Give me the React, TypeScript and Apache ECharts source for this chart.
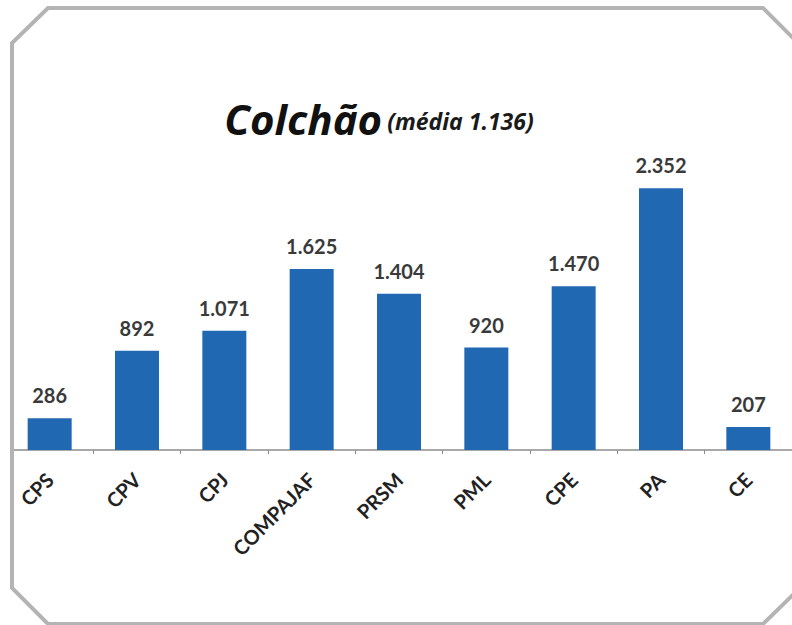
import React, { useEffect, useRef } from "react";
import * as echarts from "echarts";

const categories = ["CPS", "CPV", "CPJ", "COMPAJAF", "PRSM", "PML", "CPE", "PA", "CE"];
const values = [286, 892, 1071, 1625, 1404, 920, 1470, 2352, 207];
const titleMain = "Colchão";
const titleSub = "(média 1.136)";

const fmt = (v: number) => String(v).replace(/\B(?=(\d{3})+(?!\d))/g, ".");

export default function App() {
  const ref = useRef<HTMLDivElement>(null);
  useEffect(() => {
    if (!ref.current) return;
    const chart = echarts.init(ref.current, undefined, { renderer: "svg" });
    chart.setOption({
      animation: false,
      backgroundColor: "#ffffff",
      title: {
        left: 374,
        top: 90,
        textAlign: "center",
        text: `{a|${titleMain}} {b|${titleSub}}`,
        textStyle: {
          rich: {
            a: { fontFamily: "Open Sans", fontSize: 42, fontWeight: "bold", fontStyle: "italic", color: "#111", lineHeight: 46 },
            b: { fontFamily: "Open Sans", fontSize: 23, fontWeight: "bold", fontStyle: "italic", color: "#1a1a1a", lineHeight: 46, padding: [5, 0, 0, 0] },
          },
        },
      },
      grid: { left: 6, width: 800, top: 116, bottom: 175, containLabel: false },
      xAxis: {
        type: "category",
        data: categories,
        axisLine: { lineStyle: { color: "#8c8c8c", width: 1.5 } },
        axisTick: { show: true, length: 4, lineStyle: { color: "#8c8c8c" } },
        axisLabel: {
          rotate: 45,
          margin: 26,
          interval: 0,
          fontFamily: "Lato",
          fontSize: 20,
          fontWeight: "bold",
          color: "#222",
        },
      },
      yAxis: { type: "value", min: 0, max: 3000, show: false, splitLine: { show: false } },
      series: [
        {
          type: "bar",
          data: values,
          barWidth: 44,
          itemStyle: { color: "#2068b2" },
          label: {
            show: true,
            position: "top",
            distance: 13,
            fontFamily: "Lato",
            fontSize: 20,
            fontWeight: "bold",
            color: "#3a3a3a",
            formatter: (p: any) => fmt(p.value),
          },
        },
      ],
      graphic: [
        { type: "rect", z: 100, shape: { x: 0, y: 0, width: 11, height: 625 }, style: { fill: "#fff" } },
        {
          type: "polygon",
          z: 101,
          shape: {
            points: [
              [48, 8], [763, 8], [798, 43], [798, 590], [763, 624], [48, 624], [12, 588], [12, 43],
            ],
          },
          style: { fill: "none", stroke: "#b4b4b4", lineWidth: 4 },
        },
      ],
    });
    return () => chart.dispose();
  }, []);
  return <div ref={ref} style={{ position: "fixed", left: 0, top: 0, width: 792, height: 625 }} />;
}
